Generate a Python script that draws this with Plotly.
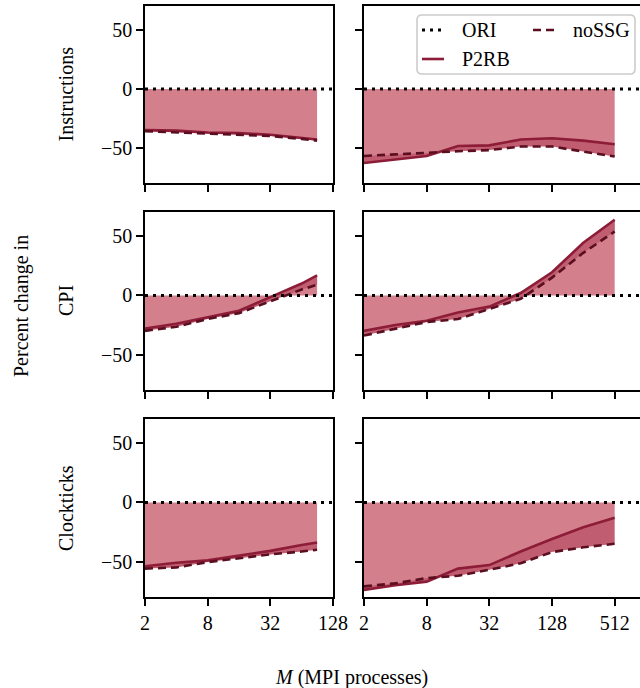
import math
import plotly.graph_objects as go

# ---------------- data ----------------
x_left = [2, 4, 8, 16, 32, 64, 90]
x_right = [2, 4, 8, 16, 32, 64, 128, 256, 512]

row_names = ["Instructions", "CPI", "Clockticks"]

instr_p2rb_left = [-35, -35.5, -37, -37.5, -39, -41.5, -43]
instr_nossg_left = [-36, -37, -38, -38.5, -40, -42.5, -44]
instr_p2rb_right = [-63, -60, -57, -48.5, -48, -43, -42, -44, -47]
instr_nossg_right = [-57, -55.5, -54, -53, -52, -49, -49, -53, -57.5]

cpi_p2rb_left = [-28, -24, -18.5, -13, -1.5, 10, 17]
cpi_nossg_left = [-30, -26.5, -20, -15, -5, 5, 9]
cpi_p2rb_right = [-30, -25, -21.5, -14.5, -9.5, 2, 19.5, 44.5, 64]
cpi_nossg_right = [-34, -28, -22.5, -20, -11.5, -3, 15, 36, 54]

clk_p2rb_left = [-54, -51, -49, -45, -41, -36, -34]
clk_nossg_left = [-56, -55, -50.5, -47, -44, -41.5, -40]
clk_p2rb_right = [-74, -70, -67, -56, -53, -41.5, -31, -21, -13]
clk_nossg_right = [-71, -68.5, -64, -62, -57, -51.5, -42, -38, -35]

ori_value = 0

ticks_left = [2, 8, 32, 128]
ticks_right = [2, 8, 32, 128, 512]
yticks = [-50, 0, 50]

panels = [
    [(instr_p2rb_left, instr_nossg_left), (instr_p2rb_right, instr_nossg_right)],
    [(cpi_p2rb_left, cpi_nossg_left), (cpi_p2rb_right, cpi_nossg_right)],
    [(clk_p2rb_left, clk_nossg_left), (clk_p2rb_right, clk_nossg_right)],
]

# ---------------- style ----------------
W, H = 640, 688
FONT = "Liberation Serif"
FS = 20
C_P2RB = "#8c1c37"
C_NOSSG = "#5a0e20"
C_FILL = "#d47f8c"
C_BAND = "#c15d70"
LW = 2.6
AXW = 1.6


def px(x):
    return x / W


def py(y):
    return 1 - y / H


col_dom = [(145, 333), (364, 640)]
row_dom = [(6, 183), (212, 390), (419, 597)]
x_ranges = [
    [math.log10(2), math.log10(128)],
    [math.log10(2), math.log10(2) + (640 - 364) / (188 / math.log10(64))],
]

fig = go.Figure()
layout = {}
shapes = []
annotations = []

for r in range(3):
    for c in range(2):
        i = r * 2 + c + 1
        xa = "x" if i == 1 else f"x{i}"
        ya = "y" if i == 1 else f"y{i}"
        xs = x_left if c == 0 else x_right
        p2rb, nossg = panels[r][c]
        fig.add_trace(go.Scatter(
            x=xs, y=p2rb, xaxis=xa, yaxis=ya, mode="lines",
            line=dict(color=C_P2RB, width=LW), fill="tozeroy",
            fillcolor=C_FILL, showlegend=False, name="P2RB"))
        fig.add_trace(go.Scatter(
            x=xs, y=nossg, xaxis=xa, yaxis=ya, mode="lines",
            line=dict(color=C_NOSSG, width=LW, dash="8px,5px"),
            fill="tonexty", fillcolor=C_BAND, showlegend=False, name="noSSG"))
        # ORI reference line
        shapes.append(dict(
            type="line", xref=f"{xa} domain", yref=ya, x0=0, x1=1,
            y0=ori_value, y1=ori_value,
            line=dict(color="black", width=3, dash="3px,5px"), layer="above"))

        tv = ticks_left if c == 0 else ticks_right
        layout["xaxis" if i == 1 else f"xaxis{i}"] = dict(
            type="log", range=x_ranges[c],
            domain=[px(col_dom[c][0]), px(col_dom[c][1])],
            anchor=ya, tickvals=tv, ticktext=[str(v) for v in tv],
            showticklabels=(r == 2), ticks="outside", ticklen=7,
            tickwidth=AXW, tickcolor="black", showline=True,
            linecolor="black", linewidth=AXW, mirror=True,
            showgrid=False, zeroline=False, automargin=False,
            tickfont=dict(family=FONT, size=FS, color="black"))
        layout["yaxis" if i == 1 else f"yaxis{i}"] = dict(
            range=[-80, 70.5],
            domain=[py(row_dom[r][1]), py(row_dom[r][0])],
            anchor=xa, tickvals=yticks,
            showticklabels=(c == 0), ticks="outside", ticklen=7,
            tickwidth=AXW, tickcolor="black", showline=True,
            linecolor="black", linewidth=AXW, mirror=(c == 0),
            showgrid=False, zeroline=False, automargin=False,
            tickfont=dict(family=FONT, size=FS, color="black"))

    annotations.append(dict(
        text=row_names[r], xref="paper", yref="paper",
        x=px(66), y=py((row_dom[r][0] + row_dom[r][1]) / 2),
        textangle=-90, showarrow=False, xanchor="center", yanchor="middle",
        font=dict(family=FONT, size=FS, color="black")))

annotations.append(dict(
    text="Percent change in", xref="paper", yref="paper",
    x=px(21), y=py(306), textangle=-90, showarrow=False,
    xanchor="center", yanchor="middle",
    font=dict(family=FONT, size=FS, color="black")))
annotations.append(dict(
    text="<i>M</i> (MPI processes)", xref="paper", yref="paper",
    x=px(351), y=py(677), showarrow=False, xanchor="center", yanchor="middle",
    font=dict(family=FONT, size=FS, color="black")))

# ---------------- manual legend ----------------
lx0, ly0, lx1, ly1, rr = 417, 15, 635, 74, 5
path = (f"M {px(lx0 + rr)},{py(ly0)} L {px(lx1 - rr)},{py(ly0)} "
        f"Q {px(lx1)},{py(ly0)} {px(lx1)},{py(ly0 + rr)} "
        f"L {px(lx1)},{py(ly1 - rr)} Q {px(lx1)},{py(ly1)} {px(lx1 - rr)},{py(ly1)} "
        f"L {px(lx0 + rr)},{py(ly1)} Q {px(lx0)},{py(ly1)} {px(lx0)},{py(ly1 - rr)} "
        f"L {px(lx0)},{py(ly0 + rr)} Q {px(lx0)},{py(ly0)} {px(lx0 + rr)},{py(ly0)} Z")
shapes.append(dict(type="path", path=path, xref="paper", yref="paper",
                   fillcolor="rgba(255,255,255,0.85)",
                   line=dict(color="#cccccc", width=1.6), layer="above"))

legend_items = [
    ("ORI", 422, 30, dict(color="black", width=3, dash="3px,5px")),
    ("noSSG", 533, 30, dict(color=C_NOSSG, width=LW, dash="8px,5px")),
    ("P2RB", 422, 59, dict(color=C_P2RB, width=LW)),
]
for name, hx, hy, ln in legend_items:
    shapes.append(dict(type="line", xref="paper", yref="paper",
                       x0=px(hx), x1=px(hx + 22), y0=py(hy), y1=py(hy),
                       line=ln, layer="above"))
    annotations.append(dict(
        text=name, xref="paper", yref="paper", x=px(hx + 38), y=py(hy),
        showarrow=False, xanchor="left", yanchor="middle",
        font=dict(family=FONT, size=FS, color="black")))

fig.update_layout(
    width=W, height=H, autosize=False,
    margin=dict(l=0, r=0, t=0, b=0, pad=0, autoexpand=False),
    paper_bgcolor="white", plot_bgcolor="white", showlegend=False,
    shapes=shapes, annotations=annotations,
    font=dict(family=FONT, size=FS, color="black"),
    **layout)

fig.write_html(
    "out.html",
    config={"responsive": False, "displayModeBar": False},
    post_script="document.body.style.margin='0';document.body.style.overflow='hidden';")
